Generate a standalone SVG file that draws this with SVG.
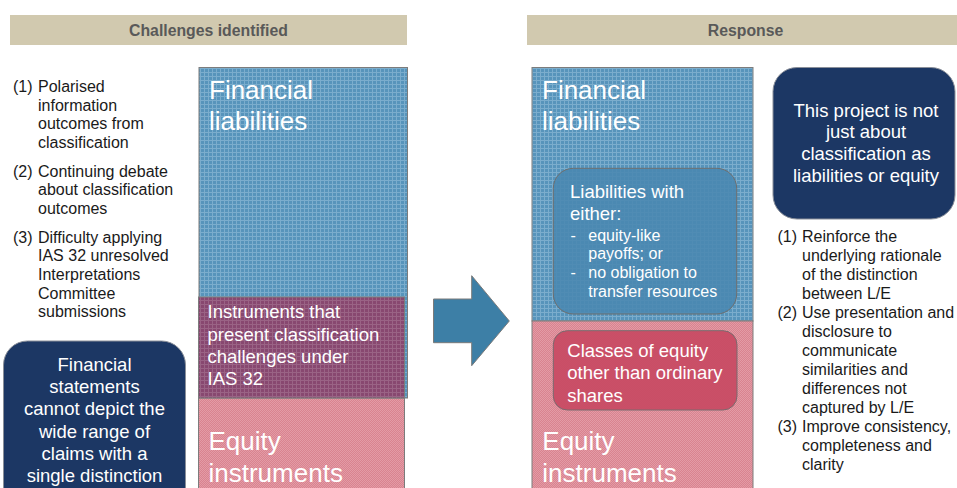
<svg xmlns="http://www.w3.org/2000/svg" width="957" height="488" viewBox="0 0 957 488">
<style>
text{font-family:"Liberation Sans",Arial,sans-serif}
.hdr{fill:#d1c9af}
.hdrt{font-size:15.8px;font-weight:bold;fill:#595959;text-anchor:middle}
.big{font-size:26px;fill:#ffffff}
.mid{font-size:18.5px;fill:#ffffff}
.sm{font-size:16px;fill:#ffffff}
.list{font-size:16px;fill:#1a1a1a}
.ctr{text-anchor:middle}
.navy{fill:#1c3764;stroke:#8a8f99;stroke-width:1}
.edge{stroke:#7c7c7c;stroke-width:1}
</style>
<defs>
<pattern id="pBlue" width="4" height="4" patternUnits="userSpaceOnUse">
<rect width="4" height="4" fill="#5794bb"/>
<rect width="4" height="1" fill="#7badcd"/>
<rect width="1" height="4" fill="#7badcd"/>
</pattern>
<pattern id="pPink" width="2" height="2" patternUnits="userSpaceOnUse">
<rect width="2" height="2" fill="#d9838f"/>
<rect width="1" height="1" fill="#e39ba6"/>
<rect x="1" y="1" width="1" height="1" fill="#e39ba6"/>
</pattern>
<pattern id="pPurple" width="4" height="4" patternUnits="userSpaceOnUse">
<rect width="4" height="4" fill="#884870"/>
<rect width="4" height="1" fill="#9a6385"/>
<rect width="1" height="4" fill="#9a6385"/>
</pattern>
</defs>

<g id="header-left">
<rect class="hdr" x="10" y="15" width="397" height="30"/>
<text class="hdrt" x="208.5" y="36">Challenges identified</text>
</g>
<g id="header-right">
<rect class="hdr" x="527" y="15" width="437" height="30"/>
<text class="hdrt" x="745.5" y="36">Response</text>
</g>

<g id="challenges-list">
<text class="list" x="13" y="92">(1)</text>
<text class="list"><tspan x="38" y="92">Polarised</tspan><tspan x="38" y="110.7">information</tspan><tspan x="38" y="129.4">outcomes from</tspan><tspan x="38" y="148">classification</tspan></text>
<text class="list" x="13" y="176.7">(2)</text>
<text class="list"><tspan x="38" y="176.7">Continuing debate</tspan><tspan x="38" y="195.4">about classification</tspan><tspan x="38" y="214">outcomes</tspan></text>
<text class="list" x="13" y="242.7">(3)</text>
<text class="list"><tspan x="38" y="242.7">Difficulty applying</tspan><tspan x="38" y="261.4">IAS 32 unresolved</tspan><tspan x="38" y="280">Interpretations</tspan><tspan x="38" y="298.7">Committee</tspan><tspan x="38" y="317.4">submissions</tspan></text>
</g>

<g id="left-statement">
<rect class="navy" x="3.5" y="341" width="182" height="170" rx="24"/>
<text class="mid ctr"><tspan x="94.5" y="370.7">Financial</tspan><tspan x="94.5" y="392.9">statements</tspan><tspan x="94.5" y="415.1">cannot depict the</tspan><tspan x="94.5" y="437.5">wide range of</tspan><tspan x="94.5" y="459.8">claims with a</tspan><tspan x="94.5" y="481.8">single distinction</tspan></text>
</g>

<g id="left-liabilities">
<rect class="edge" x="199" y="67.5" width="208.5" height="330.5" fill="url(#pBlue)"/>
<text class="big"><tspan x="209" y="99">Financial</tspan><tspan x="209" y="130">liabilities</tspan></text>
</g>
<g id="left-equity">
<rect class="edge" x="198.5" y="398" width="206" height="100" fill="url(#pPink)"/>
<text class="big"><tspan x="208.5" y="450">Equity</tspan><tspan x="208.5" y="481.5">instruments</tspan></text>
</g>
<g id="left-challenge-instruments">
<rect class="edge" x="198.5" y="297" width="206" height="101" fill="url(#pPurple)"/>
<text class="mid"><tspan x="207.5" y="317.7">Instruments that</tspan><tspan x="207.5" y="340.5">present classification</tspan><tspan x="207.5" y="362.8">challenges under</tspan><tspan x="207.5" y="385">IAS 32</tspan></text>
</g>

<g id="connectors">
<polygon points="433.5,299 471.7,299 471.7,275.7 509.3,321 471.7,365.7 471.7,342.7 433.5,342.7" fill="#3d7fa6" stroke="#7a7a7a" stroke-width="1"/>
</g>

<g id="right-liabilities">
<rect class="edge" x="532" y="67.5" width="221" height="253.5" fill="url(#pBlue)"/>
<text class="big"><tspan x="542" y="99">Financial</tspan><tspan x="542" y="130">liabilities</tspan></text>
</g>
<g id="liabilities-with-either">
<rect x="553.3" y="168.3" width="183.4" height="145.7" rx="20" fill="#4a88b1" fill-opacity="0.88" stroke="#6e6e6e" stroke-width="1"/>
<text class="mid"><tspan x="570" y="198.3">Liabilities with</tspan><tspan x="570" y="220">either:</tspan></text>
<text class="sm"><tspan x="570.5" y="240.7">-</tspan><tspan x="588.3" y="240.7">equity-like</tspan><tspan x="588.3" y="259.3">payoffs; or</tspan><tspan x="570.5" y="278.3">-</tspan><tspan x="588.3" y="278.3">no obligation to</tspan><tspan x="588.3" y="296.7">transfer resources</tspan></text>
</g>
<g id="right-equity">
<rect class="edge" x="532" y="321" width="221" height="177" fill="url(#pPink)"/>
<text class="big"><tspan x="542.3" y="450">Equity</tspan><tspan x="542.3" y="481.7">instruments</tspan></text>
</g>
<g id="classes-of-equity">
<rect x="553.3" y="330.7" width="183.7" height="79.3" rx="14" fill="#c74862" fill-opacity="0.9" stroke="#7a6a6e" stroke-width="1"/>
<text class="mid"><tspan x="567.3" y="356.7">Classes of equity</tspan><tspan x="567.3" y="379.3">other than ordinary</tspan><tspan x="567.3" y="401.7">shares</tspan></text>
</g>

<g id="project-statement">
<rect class="navy" x="773" y="67.5" width="182" height="151.5" rx="24"/>
<text class="mid ctr"><tspan x="866" y="116.5">This project is not</tspan><tspan x="866" y="138">just about</tspan><tspan x="866" y="160">classification as</tspan><tspan x="866" y="182">liabilities or equity</tspan></text>
</g>

<g id="response-list">
<text class="list" x="777.5" y="242">(1)</text>
<text class="list"><tspan x="802" y="242">Reinforce the</tspan><tspan x="802" y="261">underlying rationale</tspan><tspan x="802" y="280">of the distinction</tspan><tspan x="802" y="299">between L/E</tspan></text>
<text class="list" x="777.5" y="318">(2)</text>
<text class="list"><tspan x="802" y="318">Use presentation and</tspan><tspan x="802" y="337">disclosure to</tspan><tspan x="802" y="356">communicate</tspan><tspan x="802" y="375">similarities and</tspan><tspan x="802" y="394">differences not</tspan><tspan x="802" y="413">captured by L/E</tspan></text>
<text class="list" x="777.5" y="432">(3)</text>
<text class="list"><tspan x="802" y="432">Improve consistency,</tspan><tspan x="802" y="451">completeness and</tspan><tspan x="802" y="470">clarity</tspan></text>
</g>
</svg>
